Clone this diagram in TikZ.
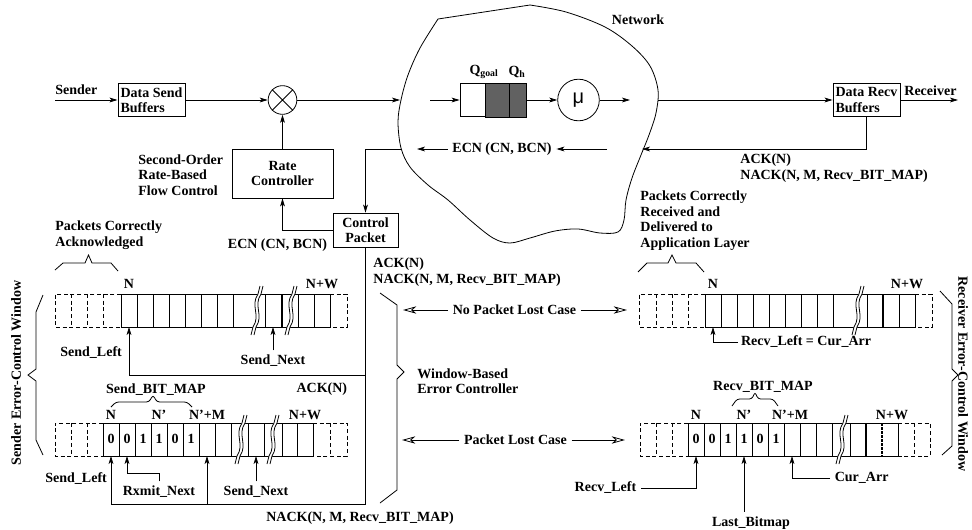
\documentclass[tikz,border=0pt]{standalone}
\usepackage{fontspec}
\setmainfont{Liberation Serif}
\newfontfamily\mufont{Liberation Sans}
\usetikzlibrary{arrows.meta}

\newcommand\winbrk[3]{%
  \draw[white, line width=2.4pt] (#1-3.5,#3+8) -- (#1-1.5,#3) .. controls (#1+6.5,#3-12) and (#1-4.5,#2+12) .. (#1+3.5,#2) -- (#1+5.5,#2-8);
  \draw (#1-5,#3+8) -- (#1-3,#3) .. controls (#1+5,#3-12) and (#1-6,#2+12) .. (#1+2,#2) -- (#1+4,#2-8);
  \draw (#1-2,#3+8) -- (#1,#3) .. controls (#1+8,#3-12) and (#1-3,#2+12) .. (#1+5,#2) -- (#1+7,#2-8);
}

\begin{document}
\begin{tikzpicture}[x=0.75pt, y=-0.75pt, line width=0.6pt,
  >={Stealth[length=6pt,width=3.6pt,inset=1.5pt]},
  every node/.style={font=\fontsize{10.5}{11.6}\selectfont\bfseries},
  box/.style={draw, align=left, inner sep=2pt},
  txt/.style={align=left, anchor=west, inner sep=0pt},
  hollow/.style={-{Stealth[open,length=10pt,width=5.5pt,inset=3pt]}},
  dsh/.style={dash pattern=on 3pt off 2pt},
  thk/.style={line width=1.3pt}]
  \useasboundingbox (0,0) rectangle (972,529);

  \coordinate (sendin) at (55,100);
  \coordinate (netin) at (400,100);
  \coordinate (qin) at (430,100);
  \coordinate (qout) at (630,100);
  \coordinate (netout) at (658,100);
  \coordinate (recvout) at (958,100);
  \coordinate (netack) at (642,149);
  \coordinate (ecnin) at (607,149);
  \coordinate (ecnout) at (417,149);
  \coordinate (netecn) at (402,149);

  \node[txt] (sender) at (55,90) {Sender};
  \node[box, minimum width=48.75pt, minimum height=24.75pt] (sendbuf) at (151.5,100) {Data Send\\Buffers};
  \node[circle, draw, minimum size=21.5pt, inner sep=0pt] (mix) at (282.5,100) {};
  \draw (mix.north west) -- (mix.south east) (mix.north east) -- (mix.south west);
  \node[box, align=center, minimum width=75.75pt, minimum height=36.75pt] (rate) at (282.5,173.5) {Rate\\Controller};
  \node[box, align=center, minimum width=48.75pt, minimum height=25.5pt] (ctrl) at (365.5,230) {Control\\Packet};
  \node[box, minimum width=48.75pt, minimum height=24.75pt] (recvbuf) at (866.5,100) {Data Recv\\Buffers};
  \node[txt] (receiver) at (904,91) {Receiver};

  \draw plot[smooth, tension=0.55] coordinates {(530,5) (566,12) (605,27) (632,46) (650,66) (658,90) (656,113) (649,135) (641,155) (632,178) (626,200) (624,220) (618,232) (600,233) (578,229) (555,231) (530,238) (510,243) (493,238) (470,220) (448,200) (428,185) (410,167) (401,148) (398,122) (401,100) (408,75) (420,48) (438,19)} -- cycle;
  \node (net) at (638,20) {Network};

  \node[draw, minimum width=49.5pt, minimum height=24.75pt, inner sep=0pt] (queue) at (493,100) {};
  \filldraw[fill=black!62] (485,83.5) rectangle (queue.south east);
  \draw (509,83.5) -- (509,116.5);
  \node (qgoal) at (484,72) {Q\textsubscript{goal}};
  \node (qh) at (517,72) {Q\textsubscript{h}};
  \node[circle, draw, minimum size=31.2pt, inner sep=0pt, font=\mufont\fontsize{15}{15}\selectfont] (mu) at (578.5,100) {μ};

  \draw[->] (sendin) -- (sendbuf);
  \draw[->] (sendbuf) -- (mix);
  \draw[->] (mix) -- (netin);
  \draw[->] (qin) -- (queue);
  \draw[->] (queue) -- (mu);
  \draw[->] (mu) -- (qout);
  \draw[->] (netout) -- (recvbuf);
  \draw[->] (recvbuf) -- (recvout);
  \draw[->] (recvbuf) |- (netack);
  \node (ecnnet) at (502,149) {ECN (CN, BCN)};
  \draw[->] (ecnin) -- (ecnnet);
  \draw[->] (ecnnet) -- (ecnout);
  \draw[->] (netecn) -| (ctrl);
  \draw[->] (ctrl) -| (rate);
  \draw[->] (rate) -- (mix);

  \node[txt] (acktop) at (740,168) {ACK(N)\\NACK(N, M, Recv\_BIT\_MAP)};
  \node[txt] (flowctl) at (138,175) {Second-Order\\Rate-Based\\Flow Control};
  \node (ecnlbl) at (277.5,245) {ECN (CN, BCN)};
  \node[txt] (ackctrl) at (373,272) {ACK(N)\\NACK(N, M, Recv\_BIT\_MAP)};
  \node[txt] (sacked) at (55,235) {Packets Correctly\\Acknowledged};
  \node[txt] (rdeliv) at (640,220.5) {Packets Correctly\\Received and\\Delivered to\\Application Layer};
  \draw (55,270) -- (63,263) -- (85,263) -- (88.5,255) -- (92,263) -- (111,263) -- (118,271);
  \draw (638,272) -- (647,263) -- (668,263) -- (672,255) -- (676,263) -- (696,263) -- (704,272);

  \draw (43,295) -- (36,312) -- (36,369) -- (28,375) -- (36,381) -- (36,440) -- (43,455);
  \node[rotate=90] (swin) at (16,373) {Sender Error-Control Window};
  \draw (940,291) -- (952,304) -- (952,369) -- (958,375) -- (952,381) -- (952,446) -- (942,455);
  \node[rotate=-90] (rwin) at (963,374) {Receiver Error-Control Window};
  \draw (380,293) -- (397,305) -- (397,365) -- (404,372) -- (397,379) -- (397,490) -- (380,503);
  \node[txt] (wbec) at (417,381) {Window-Based\\Error Controller};

  \node (nolost) at (514.5,310) {No Packet Lost Case};
  \coordinate (nolostl) at (403,310);
  \coordinate (nolostr) at (627,310);
  \draw[hollow] (nolost) -- (nolostl);
  \draw[hollow] (nolost) -- (nolostr);
  \node (lost) at (515.5,440) {Packet Lost Case};
  \coordinate (lostl) at (402,440);
  \coordinate (lostr) at (625,440);
  \draw[hollow] (lost) -- (lostl);
  \draw[hollow] (lost) -- (lostr);

  \draw[dsh] (121,294) -- (55,294) -- (55,327) -- (121,327);
  \foreach \x in {71,87,103} \draw[dsh] (\x,294) -- (\x,327);
  \draw (121,294) -- (330,294) (121,327) -- (330,327);
  \foreach \x in {121,137,153,169,185,201,217,233,265,298,314,330} \draw (\x,294) -- (\x,327);
  \draw[thk] (282,294) -- (282,327);
  \draw[dsh] (330,294) -- (347,294) -- (347,327) -- (330,327);
  \winbrk{256}{294}{327}
  \winbrk{290}{294}{327}
  \node (sN1) at (129,284) {N};
  \node (sNW1) at (322,284) {N+W};

  \draw[dsh] (103,423) -- (55,423) -- (55,456) -- (103,456);
  \foreach \x in {71,87} \draw[dsh] (\x,423) -- (\x,456);
  \draw (103,423) -- (313,423) (103,456) -- (313,456);
  \foreach \x in {103,119,135,151,167,183,199,215,231,248,264,282,297,313} \draw (\x,423) -- (\x,456);
  \draw[dsh] (313,423) -- (347,423) -- (347,456) -- (313,456);
  \draw[dsh] (330,423) -- (330,456);
  \winbrk{240}{423}{456}
  \winbrk{272}{423}{456}
  \foreach \b [count=\i] in {0,0,1,1,0,1} \node (sbit\i) at (95+16*\i,439) {\b};
  \node (sN2) at (111,415) {N};
  \node (sNp2) at (159,415) {N'};
  \node (sNpM2) at (207,415) {N'+M};
  \node (sNW2) at (305,415) {N+W};
  \node (sbmap) at (156,390) {Send\_BIT\_MAP};
  \draw[rounded corners=2pt] (111,407) -- (116,402) -- (149,402) -- (153,395) -- (157,402) -- (187,402) -- (192,407);

  \coordinate (sl1) at (129,327);
  \coordinate (sn1) at (273,327);
  \coordinate (jack) at (365.5,375);
  \coordinate (jnack) at (365.5,504);
  \draw (ctrl) -- (jnack);
  \draw[->] (jack) -| (sl1);
  \node[txt] (sleft1) at (60,353) {Send\_Left};
  \node (snext1) at (273,361) {Send\_Next};
  \draw[->] (snext1) -- (sn1);

  \coordinate (sl2) at (111,456);
  \coordinate (rx2) at (127,456);
  \coordinate (rxbend) at (127,473);
  \coordinate (nm2) at (207,456);
  \coordinate (sn2) at (256,456);
  \draw[->] (jnack) -| (sl2);
  \draw[->] (jnack -| nm2) -- (nm2);
  \node[txt] (sleft2) at (45,479) {Send\_Left};
  \node (rxmit) at (159,492) {Rxmit\_Next};
  \draw[->] (rxmit) |- (rxbend) -- (rx2);
  \node (snext2) at (256,492) {Send\_Next};
  \draw[->] (snext2) -- (sn2);
  \node[anchor=east] (ack2) at (352,389) {ACK(N)};
  \node (nack2) at (360,518) {NACK(N, M, Recv\_BIT\_MAP)};

  \draw[dsh] (705,294) -- (639,294) -- (639,327) -- (705,327);
  \foreach \x in {656,672,688} \draw[dsh] (\x,294) -- (\x,327);
  \draw (705,294) -- (915,294) (705,327) -- (915,327);
  \foreach \x in {705,721,737,753,769,785,801,817,833,867,899,915} \draw (\x,294) -- (\x,327);
  \draw[thk] (883,294) -- (883,327);
  \draw[dsh] (915,294) -- (932,294) -- (932,327) -- (915,327);
  \winbrk{857}{294}{327}
  \node (rN1) at (713,284) {N};
  \node (rNW1) at (907,284) {N+W};
  \coordinate (rl1) at (713,327);
  \node[txt, inner sep=2pt] (rlcur) at (738,342) {Recv\_Left = Cur\_Arr};
  \draw[->] (rlcur) -| (rl1);

  \draw[dsh] (688,423) -- (640,423) -- (640,456) -- (688,456);
  \foreach \x in {656,672} \draw[dsh] (\x,423) -- (\x,456);
  \draw (688,423) -- (898,423) (688,456) -- (898,456);
  \foreach \x in {688,704,720,736,752,768,784,800,816,832,850,898} \draw (\x,423) -- (\x,456);
  \draw[thk] (866,423) -- (866,456);
  \draw[line width=1pt, dash pattern=on 2pt off 1pt] (882,423) -- (882,456);
  \draw[dsh] (898,423) -- (930,423) -- (930,456) -- (898,456);
  \draw[dsh] (914,423) -- (914,456);
  \winbrk{841}{423}{456}
  \foreach \b [count=\i] in {0,0,1,1,0,1} \node (rbit\i) at (680+16*\i,439) {\b};
  \node (rN2) at (696,415) {N};
  \node (rNp2) at (744,415) {N'};
  \node (rNpM2) at (790,415) {N'+M};
  \node (rNW2) at (892,415) {N+W};
  \node (rbmap) at (763,387) {Recv\_BIT\_MAP};
  \draw[rounded corners=2pt] (732,406) -- (737,399) -- (752,399) -- (755,392) -- (758,399) -- (773,399) -- (778,406);

  \coordinate (rl2) at (696,456);
  \coordinate (lb2) at (744,456);
  \coordinate (ca2) at (792,456);
  \node[anchor=east] (rleft2) at (641,488) {Recv\_Left};
  \draw[->] (rleft2) -| (rl2);
  \node (lastbm) at (751,523) {Last\_Bitmap};
  \draw[->] (lastbm.north -| lb2) -- (lb2);
  \node[anchor=west] (curarr) at (830,478) {Cur\_Arr};
  \draw[->] (curarr) -| (ca2);
\end{tikzpicture}
\end{document}
